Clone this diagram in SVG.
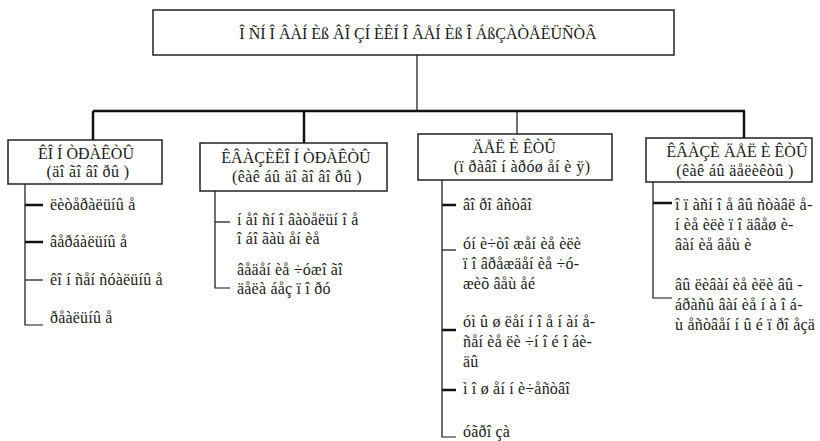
<svg xmlns="http://www.w3.org/2000/svg" width="820" height="441" viewBox="0 0 820 441">
<style>
text{font-family:"Liberation Serif","Times New Roman",serif;fill:#1a1a1a}
.t{font-size:16px;text-anchor:middle}
.h{font-size:16px;text-anchor:middle}
.s{font-size:16px;text-anchor:middle;letter-spacing:0.4px}
.i{font-size:16px;letter-spacing:0.2px}
rect{fill:#fff;stroke:#222;stroke-width:1.5}
.c{stroke:#111;fill:none}
.b{stroke-width:2.5}
.n{stroke-width:1.2}
</style>
<g id="connectors">
<line class="c n" x1="417" y1="55" x2="417" y2="111"/>
<line class="c b" x1="93" y1="111" x2="745" y2="111"/>
<line class="c b" x1="93" y1="111" x2="93" y2="140"/>
<line class="c b" x1="304" y1="111" x2="304" y2="143"/>
<line class="c n" x1="517" y1="111" x2="517" y2="134"/>
<line class="c b" x1="744" y1="111" x2="744" y2="138"/>
<path class="c n" d="M25 184V325H43"/>
<line class="c b" x1="25" y1="205" x2="43" y2="205"/>
<line class="c b" x1="25" y1="242" x2="43" y2="242"/>
<line class="c n" x1="25" y1="280" x2="43" y2="280"/>
<path class="c n" d="M215 191V288H230"/>
<line class="c n" x1="215" y1="222" x2="230" y2="222"/>
<path class="c n" d="M442 180V437H456"/>
<line class="c b" x1="442" y1="205" x2="456" y2="205"/>
<line class="c n" x1="442" y1="250" x2="456" y2="250"/>
<line class="c b" x1="442" y1="330" x2="456" y2="330"/>
<line class="c b" x1="442" y1="390" x2="456" y2="390"/>
<path class="c n" d="M653 182V298H672"/>
<line class="c b" x1="653" y1="203" x2="672" y2="203"/>
</g>
<g id="root">
<rect x="153" y="10" width="521" height="45"/>
<text class="t" x="418" y="39">Î ÑÍ Î ÂÀÍ Èß ÂÎ ÇÍ ÈÊÍ Î ÂÅÍ Èß Î ÁßÇÀÒÅËÜÑÒÂ</text>
</g>
<g id="contracts">
<rect x="8" y="140" width="154" height="44"/>
<text class="h" x="86" y="159">ÊÎ Í ÒÐÀÊÒÛ</text>
<text class="s" x="88" y="177">(äî ãî âî ðû )</text>
<text class="i" x="50" y="210">ëèòåðàëüíû å</text>
<text class="i" x="50" y="247">âåðáàëüíû å</text>
<text class="i" x="50" y="285">êî í ñåí ñóàëüíû å</text>
<text class="i" x="50" y="323">ðåàëüíû å</text>
</g>
<g id="quasicontracts">
<rect x="200" y="143" width="187" height="48"/>
<text class="h" x="296" y="163">ÊÂÀÇÈÊÎ Í ÒÐÀÊÒÛ</text>
<text class="s" x="297" y="182">(êàê áû  äî ãî âî ðû )</text>
<text class="i" x="237" y="225">í åî ñí î âàòåëüí î å</text>
<text class="i" x="237" y="244">î áî ãàù åí èå</text>
<text class="i" x="237" y="275">âåäåí èå ÷óæî ãî</text>
<text class="i" x="237" y="294">äåëà áåç ï î ðó</text>
</g>
<g id="delicts">
<rect x="418" y="134" width="194" height="46"/>
<text class="h" x="514" y="153">ÄÅË È ÊÒÛ</text>
<text class="s" x="522" y="172">(ï ðàâî í àðóø åí è ÿ)</text>
<text class="i" x="463" y="210">âî ðî âñòâî</text>
<text class="i" x="463" y="249">óí è÷òî æåí èå èëè</text>
<text class="i" x="463" y="269">ï î âðåæäåí èå ÷ó-</text>
<text class="i" x="463" y="289">æèõ âåù åé</text>
<text class="i" x="463" y="327">óì û ø ëåí í î å í àí å-</text>
<text class="i" x="463" y="347">ñåí èå ëè ÷í î é î áè-</text>
<text class="i" x="463" y="367">äû</text>
<text class="i" x="463" y="394">ì î ø åí í è÷åñòâî</text>
<text class="i" x="463" y="437">óãðî çà</text>
</g>
<g id="quasidelicts">
<rect x="646" y="138" width="166" height="44"/>
<text class="h" x="737" y="157">ÊÂÀÇÈ ÄÅË È ÊÒÛ</text>
<text class="s" x="735" y="176">(êàê áû  äåëèêòû )</text>
<text class="i" x="675" y="210">î ï àñí î å âû ñòàâë å-</text>
<text class="i" x="675" y="230">í èå èëè ï î äâåø è-</text>
<text class="i" x="675" y="250">âàí èå âåù è</text>
<text class="i" x="675" y="290">âû ëèâàí èå èëè âû -</text>
<text class="i" x="675" y="310">áðàñû âàí èå í à î á-</text>
<text class="i" x="675" y="330">ù åñòâåí í û é ï ðî åçä</text>
</g>
</svg>
